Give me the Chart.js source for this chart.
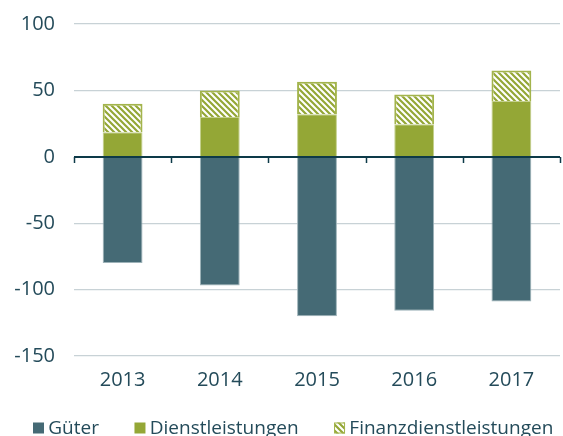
<!DOCTYPE html>
<html>
<head>
<meta charset="utf-8">
<script src="https://cdn.jsdelivr.net/npm/chart.js@4"></script>
<style>
  html, body { margin: 0; padding: 0; background: #fff; }
  #wrap { width: 563px; height: 436px; }
</style>
</head>
<body>
<div id="wrap"><canvas id="myBarChart"></canvas></div>
<script>
var years = ['2013', '2014', '2015', '2016', '2017'];
var gueter = [-80, -97, -120, -116, -109];
var dienstleistungen = [18.5, 30, 32, 24.5, 42];
var finanzdienstleistungen = [21.5, 20, 24.5, 22.5, 23];
var yTicks = [100, 50, 0, -50, -100, -150];

var textColor = '#244b5a';
var darkLine = '#0d3a48';

function makeHatch() {
    var c = document.createElement('canvas');
    c.width = 6; c.height = 6;
    var g = c.getContext('2d');
    g.fillStyle = '#ffffff';
    g.fillRect(0, 0, 6, 6);
    g.strokeStyle = '#94a736';
    g.lineWidth = 2.2;
    g.beginPath();
    g.moveTo(-1, -1); g.lineTo(7, 7);
    g.moveTo(-1, 5); g.lineTo(1, 7);
    g.moveTo(5, -1); g.lineTo(7, 1);
    g.stroke();
    return g.createPattern(c, 'repeat');
}

// zero line with small ticks between the categories
var zeroLine = {
    id: 'zeroLine',
    afterDatasetsDraw: function(chart) {
        var ctx = chart.ctx, x = chart.scales.x, y = chart.scales.y;
        var y0 = Math.round(y.getPixelForValue(0));
        ctx.save();
        ctx.strokeStyle = darkLine;
        ctx.lineWidth = 2;
        ctx.beginPath();
        ctx.moveTo(x.left, y0);
        ctx.lineTo(x.right, y0);
        ctx.stroke();
        ctx.lineWidth = 1.5;
        var step = (x.right - x.left) / years.length;
        for (var i = 0; i <= years.length; i++) {
            var px = Math.round(x.left + i * step) + 0.5;
            ctx.beginPath();
            ctx.moveTo(px, y0);
            ctx.lineTo(px, y0 + 6);
            ctx.stroke();
        }
        ctx.restore();
    }
};

// legend drawn by hand: small square, short gap, label
var bottomLegend = {
    id: 'bottomLegend',
    afterDraw: function(chart) {
        var ctx = chart.ctx;
        var x = 33, y = 434;
        ctx.save();
        ctx.font = '19px "Open Sans"';
        ctx.textBaseline = 'alphabetic';
        chart.data.datasets.forEach(function(ds) {
            ctx.fillStyle = ds.backgroundColor;
            ctx.fillRect(x, y - 11.5, 11, 11);
            if (ds.label === 'Finanzdienstleistungen') {
                ctx.strokeStyle = ds.borderColor;
                ctx.lineWidth = 1;
                ctx.strokeRect(x + 0.5, y - 11, 10, 10);
            }
            x += 15.3;
            ctx.fillStyle = textColor;
            ctx.fillText(ds.label, x, y);
            x += ctx.measureText(ds.label).width + 35.5;
        });
        ctx.restore();
    }
};

document.addEventListener("DOMContentLoaded", function() {
    var ctx = document.getElementById('myBarChart').getContext('2d');
    var myBarChart = new Chart(ctx, {
        type: 'bar',
        data: {
            labels: years,
            datasets: [{
                label: 'Güter',
                data: gueter,
                backgroundColor: '#456a75',
                borderColor: '#9db2b8',
                borderWidth: 1
            }, {
                label: 'Dienstleistungen',
                data: dienstleistungen,
                backgroundColor: '#94a736',
                borderColor: '#c3cf8c',
                borderWidth: 1
            }, {
                label: 'Finanzdienstleistungen',
                data: finanzdienstleistungen,
                backgroundColor: makeHatch(),
                borderColor: '#a3b44c',
                borderWidth: 2
            }]
        },
        plugins: [zeroLine, bottomLegend],
        options: {
            responsive: true,
            maintainAspectRatio: false,
            animation: false,
            barPercentage: 0.41,
            categoryPercentage: 1,
            layout: { padding: { left: 0, right: 3, top: 24, bottom: 42.5 } },
            scales: {
                x: {
                    stacked: true,
                    grid: { display: false },
                    border: { display: false },
                    afterFit: function(scale) { scale.height = 37.5; },
                    ticks: {
                        color: textColor,
                        font: { family: 'Open Sans', size: 20 },
                        padding: 4
                    }
                },
                y: {
                    stacked: true,
                    min: -150,
                    max: 100,
                    afterBuildTicks: function(scale) {
                        scale.ticks = yTicks.map(function(v) { return { value: v }; });
                    },
                    afterFit: function(scale) { scale.width = 74; },
                    grid: {
                        color: '#c8d2d6',
                        lineWidth: 1.3,
                        drawTicks: true,
                        tickLength: 19,
                        tickColor: 'rgba(0,0,0,0)'
                    },
                    border: { display: false },
                    ticks: {
                        color: textColor,
                        font: { family: 'Open Sans', size: 20 },
                        padding: 0
                    }
                }
            },
            plugins: {
                legend: { display: false },
                tooltip: { enabled: false }
            }
        }
    });
});
</script>
</body>
</html>
